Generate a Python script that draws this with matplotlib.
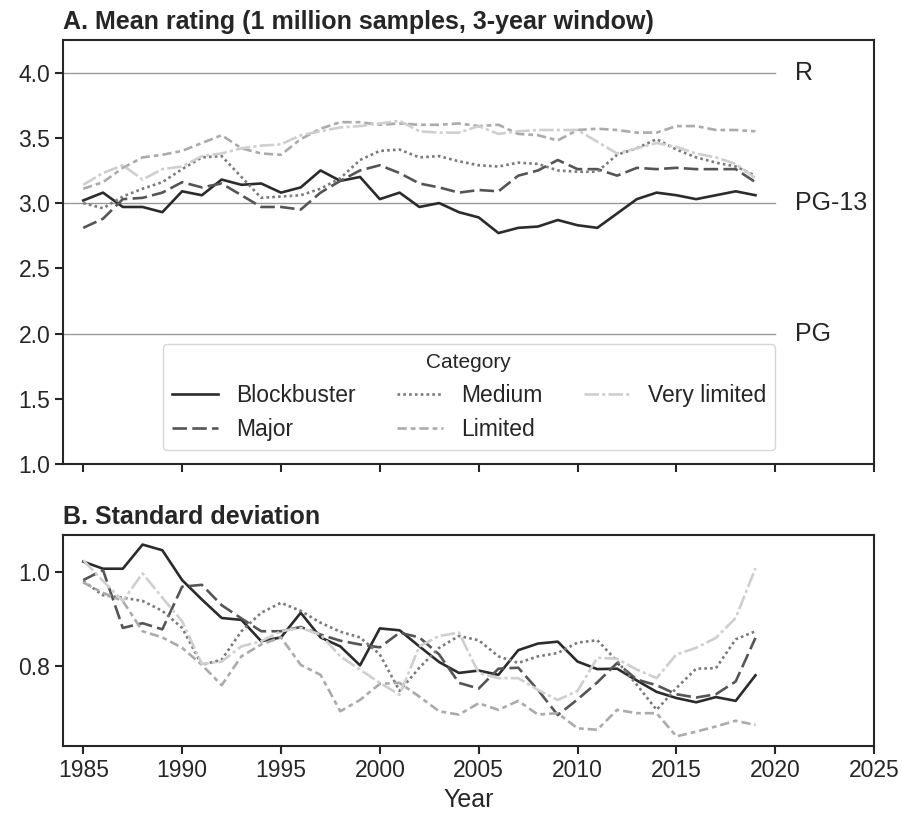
import numpy as np
import matplotlib
matplotlib.use("Agg")
import matplotlib.pyplot as plt

plt.rcParams['font.family'] = ['Liberation Sans', 'DejaVu Sans']
plt.rcParams['text.color'] = '#262626'
plt.rcParams['axes.labelcolor'] = '#262626'
plt.rcParams['xtick.color'] = '#262626'
plt.rcParams['ytick.color'] = '#262626'

# data
years = list(range(1985, 2020))
categories = ['Blockbuster', 'Major', 'Medium', 'Limited', 'Very limited']

mean_blockbuster = [3.02, 3.08, 2.97, 2.97, 2.93, 3.09, 3.06, 3.18, 3.14, 3.15,
                    3.08, 3.12, 3.25, 3.17, 3.20, 3.03, 3.08, 2.97, 3.00, 2.93,
                    2.89, 2.77, 2.81, 2.82, 2.87, 2.83, 2.81, 2.92, 3.03, 3.08,
                    3.06, 3.03, 3.06, 3.09, 3.06]
mean_major = [2.81, 2.88, 3.03, 3.04, 3.08, 3.16, 3.12, 3.15, 3.06, 2.97,
              2.97, 2.95, 3.08, 3.17, 3.25, 3.29, 3.23, 3.15, 3.12, 3.08,
              3.10, 3.09, 3.21, 3.25, 3.33, 3.26, 3.26, 3.21, 3.27, 3.26,
              3.27, 3.26, 3.26, 3.26, 3.16]
mean_medium = [3.00, 2.96, 3.05, 3.11, 3.16, 3.26, 3.35, 3.36, 3.20, 3.04,
               3.05, 3.06, 3.11, 3.19, 3.33, 3.40, 3.41, 3.35, 3.36, 3.32,
               3.29, 3.28, 3.31, 3.30, 3.25, 3.24, 3.24, 3.37, 3.42, 3.49,
               3.41, 3.35, 3.31, 3.28, 3.21]
mean_limited = [3.11, 3.16, 3.27, 3.35, 3.37, 3.40, 3.46, 3.52, 3.42, 3.38,
                3.37, 3.49, 3.57, 3.62, 3.62, 3.60, 3.61, 3.60, 3.60, 3.61,
                3.59, 3.60, 3.53, 3.52, 3.48, 3.56, 3.57, 3.56, 3.54, 3.54,
                3.59, 3.59, 3.56, 3.56, 3.55]
mean_very_limited = [3.14, 3.23, 3.29, 3.18, 3.26, 3.28, 3.36, 3.38, 3.42, 3.44,
                     3.45, 3.52, 3.55, 3.58, 3.59, 3.61, 3.63, 3.55, 3.54, 3.54,
                     3.59, 3.53, 3.55, 3.56, 3.56, 3.56, 3.47, 3.38, 3.42, 3.46,
                     3.43, 3.38, 3.35, 3.30, 3.19]

sd_blockbuster = [1.021, 1.006, 1.006, 1.057, 1.045, 0.982, 0.941, 0.902, 0.898, 0.853,
                  0.861, 0.913, 0.861, 0.842, 0.802, 0.880, 0.876, 0.842, 0.809, 0.786,
                  0.791, 0.782, 0.834, 0.848, 0.852, 0.810, 0.794, 0.795, 0.770, 0.746,
                  0.733, 0.724, 0.735, 0.727, 0.781]
sd_major = [0.982, 1.003, 0.881, 0.891, 0.878, 0.968, 0.972, 0.929, 0.901, 0.874,
            0.874, 0.883, 0.867, 0.854, 0.846, 0.840, 0.871, 0.861, 0.825, 0.765,
            0.753, 0.795, 0.797, 0.750, 0.697, 0.730, 0.766, 0.807, 0.772, 0.760,
            0.741, 0.734, 0.741, 0.768, 0.860]
sd_medium = [0.980, 0.950, 0.945, 0.938, 0.917, 0.881, 0.803, 0.814, 0.874, 0.913,
             0.934, 0.917, 0.892, 0.873, 0.861, 0.825, 0.748, 0.797, 0.839, 0.864,
             0.855, 0.821, 0.807, 0.821, 0.828, 0.850, 0.855, 0.811, 0.761, 0.708,
             0.754, 0.795, 0.796, 0.857, 0.874]
sd_limited = [0.977, 0.955, 0.938, 0.874, 0.861, 0.839, 0.803, 0.760, 0.821, 0.846,
              0.861, 0.803, 0.782, 0.705, 0.729, 0.763, 0.765, 0.736, 0.705, 0.698,
              0.722, 0.708, 0.727, 0.698, 0.701, 0.669, 0.666, 0.708, 0.701, 0.701,
              0.652, 0.662, 0.673, 0.685, 0.676]
sd_very_limited = [1.024, 0.980, 0.938, 0.996, 0.945, 0.895, 0.805, 0.810, 0.842, 0.853,
                   0.874, 0.881, 0.867, 0.821, 0.793, 0.765, 0.740, 0.842, 0.864, 0.871,
                   0.786, 0.775, 0.775, 0.750, 0.729, 0.748, 0.818, 0.816, 0.793, 0.775,
                   0.825, 0.839, 0.860, 0.902, 1.007]

rating_levels = [2.0, 3.0, 4.0]
rating_names = ['PG', 'PG-13', 'R']

means = [mean_blockbuster, mean_major, mean_medium, mean_limited, mean_very_limited]
sds = [sd_blockbuster, sd_major, sd_medium, sd_limited, sd_very_limited]

colors = ['#2b2b2b', '#555555', '#7a7a7a', '#ababab', '#cfcfcf']
dashes = ['-', (0, (5.5, 2)), (0, (1, 1.2)), (0, (3.5, 1.5, 1.8, 1.5)), (0, (5.5, 1.2, 1.2, 1.2))]

fig = plt.figure(figsize=(9.03, 8.16), dpi=100)
ax1 = fig.add_axes([0.0703, 0.4314, 0.8977, 0.5196])
ax2 = fig.add_axes([0.0703, 0.0858, 0.8977, 0.2586], sharex=ax1)

for i in range(len(categories)):
    ax1.plot(years, means[i], color=colors[i], lw=1.9, linestyle=dashes[i], label=categories[i])
    ax2.plot(years, sds[i], color=colors[i], lw=1.9, linestyle=dashes[i])

# rating reference lines
for lev, name in zip(rating_levels, rating_names):
    ax1.axhline(lev, xmin=0, xmax=(2020 - 1984) / 41, color='#999999', lw=1, zorder=0)
    ax1.text(2021, lev, name, fontsize=18, va='center', ha='left')

ax1.set_xlim(1984, 2025)
ax1.set_ylim(1.0, 4.25)
ax1.set_yticks(np.arange(1.0, 4.01, 0.5))
ax2.set_yticks([0.8, 1.0])
ax2.set_xticks(range(1985, 2026, 5))
plt.setp(ax1.get_xticklabels(), visible=False)

for ax in (ax1, ax2):
    for s in ax.spines.values():
        s.set_linewidth(1.5)
        s.set_color('#262626')
    ax.tick_params(labelsize=16.5, length=6, width=1.5)

ax1.set_title('A. Mean rating (1 million samples, 3-year window)', loc='left',
              fontsize=18, fontweight='bold', pad=8)
ax2.set_title('B. Standard deviation', loc='left', fontsize=18, fontweight='bold', pad=8)
ax2.set_xlabel('Year', fontsize=18, labelpad=4)

leg = ax1.legend(loc='lower center', ncol=3, fontsize=16.5, title='Category',
                 title_fontsize=15, frameon=True, edgecolor='#cccccc',
                 columnspacing=1.8, borderaxespad=0.6)
leg.get_frame().set_linewidth(1.0)

fig.savefig('out.png', dpi=100)
